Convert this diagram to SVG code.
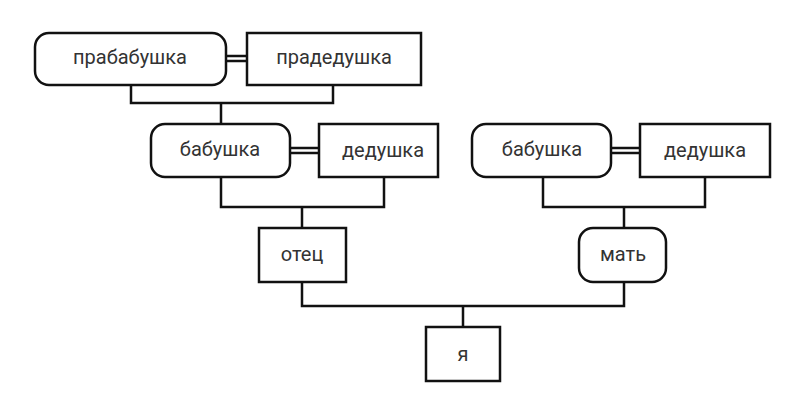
<svg xmlns="http://www.w3.org/2000/svg" width="800" height="407" viewBox="0 0 800 407">
<style>
.n{fill:#fff;stroke:#111;stroke-width:2.5}
.c{fill:none;stroke:#111;stroke-width:2.5}
text{font-family:Roboto,"Liberation Sans",sans-serif;font-size:20px;fill:#333;text-anchor:middle;dominant-baseline:central}
</style>
<rect width="800" height="407" fill="#fff"/>
<g id="connectors">
<path class="c" d="M131 85V103H333V85M221 103V124"/>
<path class="c" d="M226 56H247M226 61H247"/>
<path class="c" d="M290 148H319M290 153H319"/>
<path class="c" d="M611 148H640M611 153H640"/>
<path class="c" d="M221 177V207H384V177M302 207V228"/>
<path class="c" d="M543 177V207H705V177M624 207V228"/>
<path class="c" d="M302 282V306H624V282M463 306V327"/>
</g>
<g id="n1"><rect class="n" x="35" y="33" width="191" height="52" rx="14"/><text x="130" y="57">прабабушка</text></g>
<g id="n2"><rect class="n" x="247" y="33" width="174" height="52"/><text x="334" y="57">прадедушка</text></g>
<g id="n3"><rect class="n" x="151" y="124" width="139" height="53" rx="14"/><text x="220" y="149">бабушка</text></g>
<g id="n4"><rect class="n" x="319" y="124" width="119" height="53"/><text x="383" y="150">дедушка</text></g>
<g id="n5"><rect class="n" x="472" y="124" width="139" height="53" rx="14"/><text x="542" y="149">бабушка</text></g>
<g id="n6"><rect class="n" x="640" y="124" width="130" height="53"/><text x="705" y="150">дедушка</text></g>
<g id="n7"><rect class="n" x="259" y="228" width="87" height="54"/><text x="302" y="254">отец</text></g>
<g id="n8"><rect class="n" x="579" y="228" width="87" height="54" rx="14"/><text x="623" y="254">мать</text></g>
<g id="n9"><rect class="n" x="426" y="327" width="74" height="54"/><text x="463" y="354">я</text></g>
</svg>
